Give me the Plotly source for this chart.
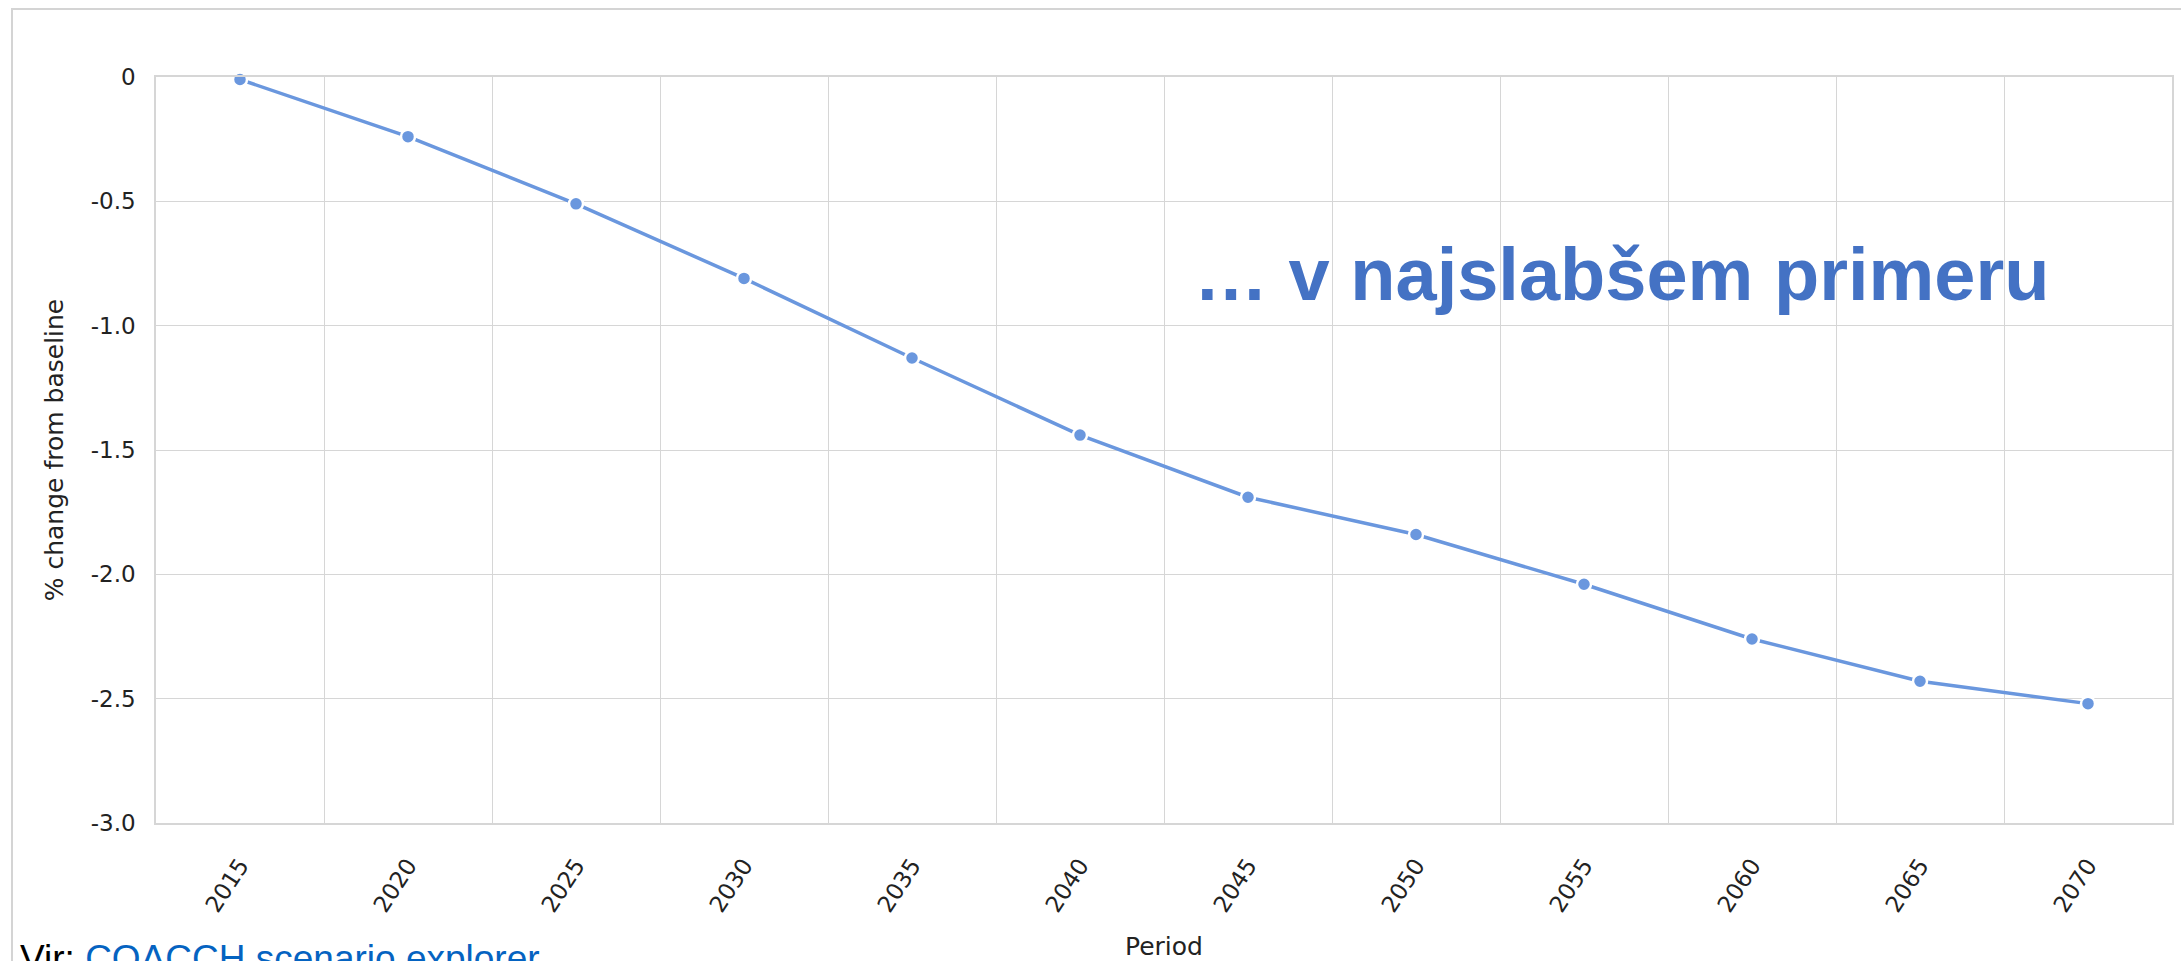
import plotly.graph_objects as go

periods = ["2015", "2020", "2025", "2030", "2035", "2040", "2045", "2050", "2055", "2060", "2065", "2070"]
change = [-0.01, -0.24, -0.51, -0.81, -1.13, -1.44, -1.69, -1.84, -2.04, -2.26, -2.43, -2.52]
y_tickvals = [0, -0.5, -1.0, -1.5, -2.0, -2.5, -3.0]
y_ticktext = ["0", "-0.5", "-1.0", "-1.5", "-2.0", "-2.5", "-3.0"]

W, H = 2181, 961
L, R, T, B = 156, 9, 77, 138
pw, ph = W - L - R, H - T - B

def px_x(x):
    return (x - L) / pw

def px_y(y):
    return 1 - (y - T) / ph

line_col = "#6a97de"
grid_col = "#d6d6d6"
font_fam = "DejaVu Sans, Verdana, sans-serif"

fig = go.Figure()
fig.add_trace(go.Scatter(
    x=periods, y=change, mode="lines+markers",
    line=dict(color=line_col, width=3.5),
    marker=dict(size=14, color=line_col, line=dict(color="white", width=2.5)),
    cliponaxis=False, showlegend=False,
))

fig.update_layout(
    width=W, height=H,
    margin=dict(l=L, r=R, t=T, b=B, autoexpand=False),
    paper_bgcolor="white", plot_bgcolor="white",
    font=dict(family=font_fam, color="#222222"),
    xaxis=dict(
        type="category", range=[-0.5, 11.5], tickson="boundaries",
        showgrid=True, gridcolor=grid_col, gridwidth=1.3,
        ticks="", tickangle=-57, tickfont=dict(size=23, color="#222222"),
        ticklabelstandoff=18,
        showline=True, linecolor=grid_col, linewidth=1.5, mirror=True,
        title=dict(text="Period", font=dict(size=25, color="#222222"), standoff=24),
        automargin=False,
    ),
    yaxis=dict(
        range=[-3.0, 0], tickvals=y_tickvals, ticktext=y_ticktext,
        showgrid=True, gridcolor=grid_col, gridwidth=1.3,
        zeroline=True, zerolinecolor=grid_col, zerolinewidth=1.3,
        ticks="", tickfont=dict(size=23, color="#222222"),
        ticklabelstandoff=14,
        showline=True, linecolor=grid_col, linewidth=1.5, mirror=True,
        title=dict(text="% change from baseline", font=dict(size=25, color="#222222"), standoff=20),
        automargin=False,
    ),
    shapes=[dict(
        type="rect", xref="paper", yref="paper",
        x0=px_x(12), x1=px_x(2300), y0=px_y(1100), y1=px_y(9),
        line=dict(color="#d4d4d4", width=2), fillcolor="rgba(0,0,0,0)", layer="below",
    )],
    annotations=[
        dict(
            text="<b>\u2026 v najslabšem primeru</b>", xref="paper", yref="paper",
            x=px_x(1192), y=px_y(274), xanchor="left", yanchor="middle", showarrow=False,
            font=dict(family="Liberation Sans, Arial, sans-serif", size=74, color="#4472c4"),
        ),
        dict(
            text="Vir: <span style='color:#0563c1'>COACCH scenario explorer</span>",
            xref="paper", yref="paper",
            x=px_x(18), y=px_y(959), xanchor="left", yanchor="middle", showarrow=False,
            font=dict(family="Liberation Sans, Arial, sans-serif", size=37, color="#000000"),
        ),
    ],
)

fig.write_html(
    "out.html",
    config={"displayModeBar": False},
    post_script="document.body.style.margin='0';document.body.style.overflow='hidden';",
)
